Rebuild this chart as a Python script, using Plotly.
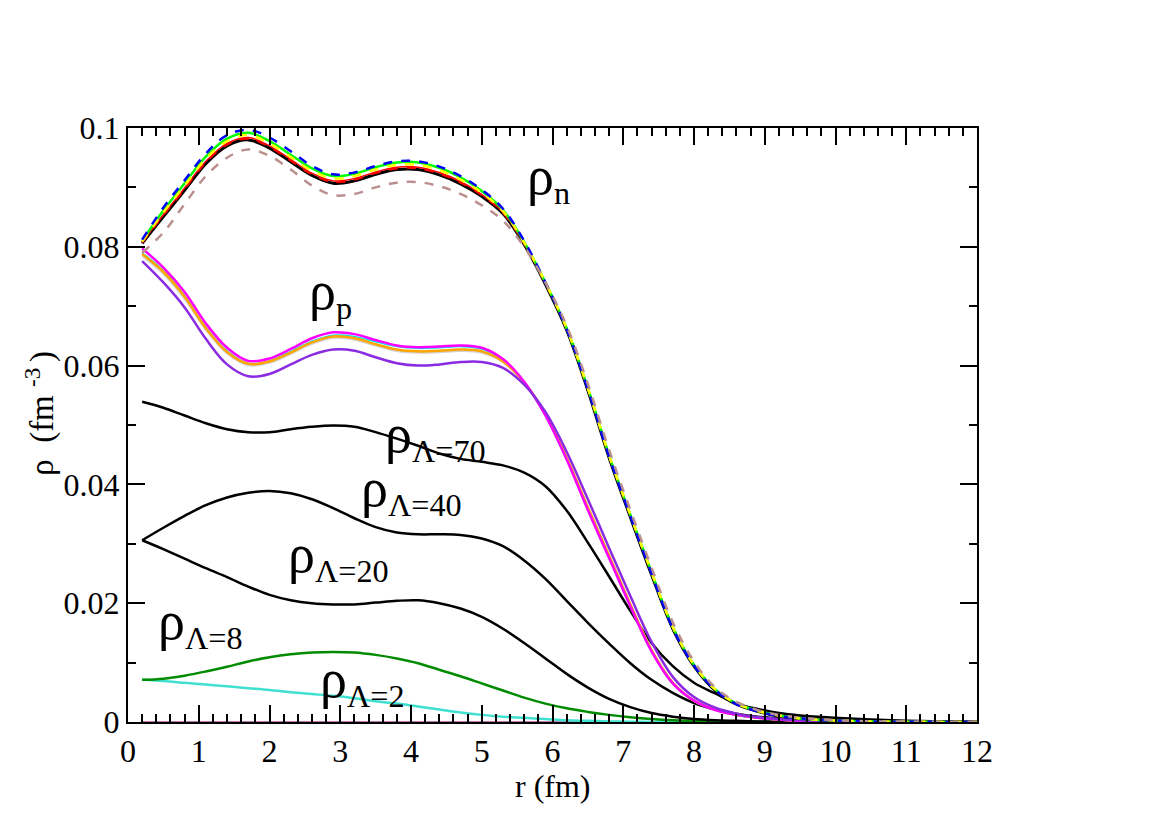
import plotly.graph_objects as go

# 반경 격자 (fm)
r = [0.2, 0.5, 0.8, 1.1, 1.4, 1.7, 2.0, 2.3, 2.6, 2.9, 3.2, 3.5, 3.8, 4.1, 4.4, 4.7,
     5.0, 5.3, 5.6, 5.9, 6.2, 6.5, 6.8, 7.1, 7.4, 7.7, 8.0, 8.3, 8.6, 8.9, 9.2, 9.5,
     10.0, 10.5, 11.0, 11.5, 12.0]

# neutron densities
n_black = [0.0806, 0.0851, 0.0895, 0.0940, 0.0970, 0.0980, 0.0966, 0.0943, 0.0920, 0.0907, 0.0911, 0.0922,
           0.0930, 0.0930, 0.0921, 0.0906, 0.0885, 0.0856, 0.0804, 0.0737, 0.0660, 0.0558, 0.0445, 0.0345,
           0.0248, 0.0157, 0.0094, 0.0053, 0.0030, 0.0018, 0.0010, 0.0006, 0.00025, 0.0001, 0.00004, 0.00002, 0.00001]
n_red = [0.0808, 0.0854, 0.0899, 0.0944, 0.0974, 0.0984, 0.0970, 0.0947, 0.0924, 0.0911, 0.0915, 0.0926,
         0.0934, 0.0934, 0.0925, 0.0910, 0.0888, 0.0858, 0.0806, 0.0739, 0.0662, 0.0560, 0.0447, 0.0347,
         0.0250, 0.0159, 0.0095, 0.0054, 0.0031, 0.0018, 0.0010, 0.0006, 0.00025, 0.0001, 0.00004, 0.00002, 0.00001]
n_yellow = [0.0809, 0.0858, 0.0903, 0.0948, 0.0978, 0.0988, 0.0974, 0.0951, 0.0928, 0.0915, 0.0919, 0.0930,
            0.0938, 0.0938, 0.0929, 0.0913, 0.0891, 0.0860, 0.0807, 0.0740, 0.0663, 0.0562, 0.0449, 0.0349,
            0.0252, 0.0160, 0.0096, 0.0055, 0.0031, 0.0019, 0.0011, 0.0006, 0.00026, 0.0001, 0.00004, 0.00002, 0.00001]
n_green = [0.0810, 0.0861, 0.0907, 0.0952, 0.0982, 0.0992, 0.0978, 0.0955, 0.0932, 0.0919, 0.0923, 0.0934,
           0.0942, 0.0942, 0.0933, 0.0917, 0.0894, 0.0862, 0.0808, 0.0740, 0.0663, 0.0562, 0.0449, 0.0349,
           0.0252, 0.0160, 0.0096, 0.0055, 0.0031, 0.0019, 0.0011, 0.0006, 0.00026, 0.0001, 0.00004, 0.00002, 0.00001]
n_blue_dash = [0.0812, 0.0866, 0.0912, 0.0957, 0.0988, 0.0997, 0.0984, 0.0961, 0.0936, 0.0922, 0.0925, 0.0936,
               0.0944, 0.0944, 0.0935, 0.0919, 0.0896, 0.0864, 0.0810, 0.0740, 0.0662, 0.0560, 0.0447, 0.0347,
               0.0250, 0.0158, 0.0095, 0.0054, 0.0030, 0.0018, 0.0010, 0.0006, 0.00025, 0.0001, 0.00004, 0.00002, 0.00001]
n_red_dash = [0.0807, 0.0853, 0.0897, 0.0942, 0.0972, 0.0982, 0.0968, 0.0945, 0.0922, 0.0909, 0.0913, 0.0924,
              0.0932, 0.0932, 0.0923, 0.0908, 0.0887, 0.0857, 0.0805, 0.0738, 0.0661, 0.0560, 0.0447, 0.0347,
              0.0251, 0.0160, 0.0096, 0.0055, 0.0031, 0.0019, 0.0011, 0.0006, 0.00026, 0.0001, 0.00004, 0.00002, 0.00001]
n_rosy_dash = [0.0790, 0.0824, 0.0872, 0.0919, 0.0950, 0.0964, 0.0953, 0.0930, 0.0903, 0.0887, 0.0889, 0.0900,
               0.0908, 0.0909, 0.0902, 0.0889, 0.0870, 0.0844, 0.0800, 0.0740, 0.0667, 0.0569, 0.0458, 0.0357,
               0.0260, 0.0168, 0.0102, 0.0058, 0.0034, 0.0020, 0.0012, 0.0007, 0.0003, 0.00012, 0.00005, 0.00002, 0.00001]

# proton densities
p_gray = [0.0785, 0.0755, 0.0713, 0.0661, 0.0621, 0.0601, 0.0605, 0.0620, 0.0637, 0.0647, 0.0644, 0.0634,
          0.0625, 0.0622, 0.0623, 0.0625, 0.0622, 0.0606, 0.0571, 0.0518, 0.0445, 0.0361, 0.0280, 0.0198,
          0.0121, 0.0066, 0.0036, 0.0021, 0.0012, 0.0007, 0.0004, 0.0002, 0.0001, 0.00005, 0.00002, 0.00001, 0.0]
p_cyan = [0.0790, 0.0760, 0.0718, 0.0665, 0.0625, 0.0604, 0.0608, 0.0624, 0.0641, 0.0651, 0.0649, 0.0640,
          0.0632, 0.0629, 0.0630, 0.0632, 0.0628, 0.0609, 0.0571, 0.0515, 0.0441, 0.0356, 0.0275, 0.0194,
          0.0118, 0.0064, 0.0035, 0.0020, 0.0011, 0.0007, 0.0004, 0.0002, 0.0001, 0.00005, 0.00002, 0.00001, 0.0]
p_orange = [0.0788, 0.0758, 0.0716, 0.0663, 0.0623, 0.0603, 0.0607, 0.0622, 0.0639, 0.0649, 0.0646, 0.0636,
            0.0627, 0.0624, 0.0625, 0.0627, 0.0624, 0.0607, 0.0572, 0.0518, 0.0445, 0.0361, 0.0280, 0.0198,
            0.0121, 0.0066, 0.0036, 0.0021, 0.0012, 0.0007, 0.0004, 0.0002, 0.0001, 0.00005, 0.00002, 0.00001, 0.0]
p_magenta = [0.0797, 0.0765, 0.0724, 0.0671, 0.0630, 0.0608, 0.0612, 0.0628, 0.0646, 0.0656, 0.0653, 0.0643,
             0.0634, 0.0631, 0.0632, 0.0634, 0.0630, 0.0611, 0.0573, 0.0516, 0.0442, 0.0357, 0.0276, 0.0195,
             0.0119, 0.0065, 0.0036, 0.0020, 0.0012, 0.0007, 0.0004, 0.0002, 0.0001, 0.00005, 0.00002, 0.00001, 0.0]
p_purple = [0.0776, 0.0740, 0.0698, 0.0645, 0.0602, 0.0582, 0.0586, 0.0602, 0.0618, 0.0627, 0.0625, 0.0614,
            0.0604, 0.0600, 0.0602, 0.0606, 0.0606, 0.0596, 0.0568, 0.0522, 0.0455, 0.0375, 0.0293, 0.0212,
            0.0135, 0.0076, 0.0042, 0.0024, 0.0014, 0.0008, 0.0005, 0.0003, 0.0001, 0.00005, 0.00002, 0.00001, 0.0]

# lambda densities
lam70 = [0.0539, 0.0529, 0.0516, 0.0503, 0.0493, 0.0488, 0.0488, 0.0493, 0.0497, 0.0499, 0.0497, 0.0488,
         0.0477, 0.0465, 0.0452, 0.0443, 0.0438, 0.0432, 0.0420, 0.0397, 0.0356, 0.0302, 0.0245, 0.0187,
         0.0133, 0.0094, 0.0066, 0.0048, 0.0031, 0.0022, 0.0015, 0.0011, 0.0007, 0.0004, 0.0002, 0.0001, 0.00005]
lam40 = [0.0306, 0.0327, 0.0347, 0.0365, 0.0378, 0.0386, 0.0389, 0.0385, 0.0375, 0.0360, 0.0343, 0.0328,
         0.0319, 0.0316, 0.0316, 0.0315, 0.0309, 0.0296, 0.0272, 0.0241, 0.0204, 0.0167, 0.0132, 0.0099,
         0.0071, 0.0049, 0.0032, 0.0021, 0.0014, 0.0009, 0.0006, 0.0004, 0.0002, 0.0001, 0.00005, 0.00002, 0.00001]
lam20 = [0.0306, 0.0291, 0.0275, 0.0259, 0.0244, 0.0228, 0.0214, 0.0205, 0.0200, 0.0198, 0.0198, 0.0201,
         0.0204, 0.0205, 0.0200, 0.0191, 0.0177, 0.0157, 0.0133, 0.0107, 0.0081, 0.0058, 0.0039, 0.0025,
         0.0015, 0.0009, 0.0005, 0.0003, 0.0002, 0.0001, 0.00006, 0.00004, 0.00002, 0.00001, 0.0, 0.0, 0.0]
lam8 = [0.0071, 0.0073, 0.0078, 0.0085, 0.0093, 0.0102, 0.0109, 0.0114, 0.0117, 0.0118, 0.0117, 0.0113,
        0.0107, 0.0099, 0.0088, 0.0077, 0.0065, 0.0053, 0.0041, 0.0031, 0.0023, 0.0017, 0.0012, 0.0008,
        0.0005, 0.0003, 0.0002, 0.0001, 0.00006, 0.00003, 0.00002, 0.00001, 0.0, 0.0, 0.0, 0.0, 0.0]
lam2 = [0.0071, 0.0069, 0.0066, 0.0063, 0.0060, 0.0057, 0.0054, 0.0050, 0.0047, 0.0044, 0.0040, 0.0035,
        0.0031, 0.0026, 0.0021, 0.0016, 0.0012, 0.0009, 0.0007, 0.0005, 0.0003, 0.0002, 0.0001, 0.00005,
        0.00002, 0.00001, 0.0, 0.0, 0.0, 0.0, 0.0, 0.0, 0.0, 0.0, 0.0, 0.0, 0.0]
zero_line = [0.0] * len(r)

FONT = "Liberation Serif"

fig = go.Figure()


def add_curve(y, color, width=2.5, dash="solid"):
    fig.add_trace(go.Scatter(
        x=r, y=y, mode="lines",
        line=dict(color=color, width=width, dash=dash, shape="spline", smoothing=1.0),
        showlegend=False, hoverinfo="skip"
    ))


# 0 선
add_curve(zero_line, "#c878b4", 2)

# Λ 곡선
add_curve(lam2, "#40e0d0", 2.5)
add_curve(lam8, "#008b00", 2.5)
add_curve(lam20, "black", 2.5)
add_curve(lam40, "black", 2.5)
add_curve(lam70, "black", 2.5)

# 양성자 곡선
add_curve(p_gray, "#d3d3d3", 2.5)
add_curve(p_cyan, "#00e5ee", 1.5)
add_curve(p_orange, "#ffa500", 2.5)
add_curve(p_magenta, "#ff00ff", 2.5)
add_curve(p_purple, "#8a2be2", 2.5)

# 중성자 곡선
add_curve(n_black, "black", 3)
add_curve(n_red, "#ff0000", 1.5)
add_curve(n_red_dash, "#ff0000", 2, "dash")
add_curve(n_green, "#00ff00", 2.5)
add_curve(n_yellow, "#ffff00", 2.5, "dash")
add_curve(n_blue_dash, "#0000ff", 2.5, "dash")
add_curve(n_rosy_dash, "#bc8f8f", 2.5, "dash")

# 곡선 라벨 (ρ 글자는 조금 크게)
RHO = '<span style="font-size:54px">ρ</span>'
labels = [
    (5.94, 0.0915, RHO + "<sub>n</sub>"),
    (2.86, 0.0722, RHO + "<sub>p</sub>"),
    (4.34, 0.0481, RHO + "<sub>Λ=70</sub>"),
    (4.01, 0.0390, RHO + "<sub>Λ=40</sub>"),
    (2.97, 0.0279, RHO + "<sub>Λ=20</sub>"),
    (1.02, 0.0165, RHO + "<sub>Λ=8</sub>"),
    (3.31, 0.0068, RHO + "<sub>Λ=2</sub>"),
]
for lx, ly, txt in labels:
    fig.add_annotation(x=lx, y=ly, xref="x", yref="y", text=txt, showarrow=False,
                       font=dict(family=FONT, size=46, color="black"))

# 축 제목 (위치 조절을 위해 annotation 사용)
fig.add_annotation(x=0.5, y=-0.108, xref="paper", yref="paper", text="r (fm)",
                   showarrow=False, xanchor="center", yanchor="middle",
                   font=dict(family=FONT, size=32, color="black"))
fig.add_annotation(x=-0.104, y=0.52, xref="paper", yref="paper",
                   text="ρ  (fm <sup>-3 </sup>)", textangle=-90,
                   showarrow=False, xanchor="center", yanchor="middle",
                   font=dict(family=FONT, size=33, color="black"))

fig.update_layout(
    width=1170, height=827,
    margin=dict(l=120, r=201, t=120, b=113),
    paper_bgcolor="white", plot_bgcolor="white",
    font=dict(family=FONT, size=31, color="black"),
)

fig.update_xaxes(
    range=[0, 12], dtick=1, tick0=0,
    ticks="inside", ticklen=17, tickwidth=2, tickcolor="black",
    minor=dict(dtick=0.2, ticks="inside", ticklen=8, tickwidth=1.5, tickcolor="black"),
    showline=True, linewidth=2, linecolor="black", mirror="ticks",
    showgrid=False, zeroline=False,
    tickfont=dict(family=FONT, size=32, color="black"),
)
fig.update_yaxes(
    range=[0, 0.1], dtick=0.02, tick0=0,
    ticks="inside", ticklen=17, tickwidth=2, tickcolor="black",
    minor=dict(dtick=0.01, ticks="inside", ticklen=8, tickwidth=1.5, tickcolor="black"),
    showline=True, linewidth=2, linecolor="black", mirror="ticks",
    showgrid=False, zeroline=False,
    tickfont=dict(family=FONT, size=32, color="black"),
)

fig.write_html("out.html")
